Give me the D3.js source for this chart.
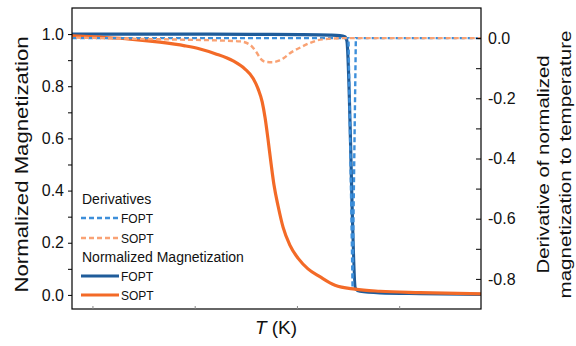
<!DOCTYPE html>
<html><head><meta charset="utf-8">
<script src="https://cdn.jsdelivr.net/npm/d3@7"></script>
<style>
body{margin:0;background:#fff;}
svg{font-family:"Liberation Sans",Arial,sans-serif;}
</style></head>
<body><svg id="c" width="576" height="346"></svg>
<script>
// Temperature in arbitrary units (0..100 across the axis)
const fopt_mag_T = [0, 19.1, 43.5, 55.7, 63.1, 65.5, 66.7, 67.2, 69.3, 70.4, 75.3, 85.1, 100];
const fopt_mag_V = [1.0, 1.0, 0.999, 0.998, 0.996, 0.994, 0.99, 0.975, 0.025, 0.014, 0.008, 0.005, 0.002];

const sopt_mag_T = [0, 6.85, 14.2, 21.5, 27.6, 31.3, 35.0, 39.4, 42.3, 44.3, 45.5, 46.5, 47.2, 47.9, 48.7, 49.4, 50.4, 51.6, 53.3, 55.3, 57.7, 60.6, 64.3, 69.2, 75.3, 85.1, 100];
const sopt_mag_V = [0.993, 0.988, 0.981, 0.969, 0.955, 0.943, 0.925, 0.897, 0.866, 0.83, 0.79, 0.74, 0.68, 0.60, 0.50, 0.42, 0.34, 0.26, 0.19, 0.14, 0.10, 0.07, 0.037, 0.022, 0.014, 0.009, 0.004];

const fopt_der_T = [0, 67.6, 68.6, 69.4, 100];
const fopt_der_V = [0, 0, -0.83, 0, 0];

const sopt_der_T = [0, 14.2, 26.4, 36.2, 41.1, 43.5, 45.0, 46.2, 47.4, 48.9, 50.4, 51.8, 53.3, 55.7, 58.2, 60.1, 63.1, 66.7, 100];
const sopt_der_V = [0.002, -0.002, -0.005, -0.008, -0.011, -0.022, -0.045, -0.07, -0.079, -0.08, -0.076, -0.066, -0.05, -0.032, -0.016, -0.007, -0.002, 0, 0];

const leftTicks = [0, 0.2, 0.4, 0.6, 0.8, 1.0];
const leftMinor = [0.1, 0.3, 0.5, 0.7, 0.9];
const rightTicks = [0, -0.2, -0.4, -0.6, -0.8];
const rightMinor = [-0.1, -0.3, -0.5, -0.7];
const xMinor = [5, 30, 55, 80];

const legendDer = ["FOPT", "SOPT"];
const legendMag = ["FOPT", "SOPT"];

const C = {foptMag:"#1f5c9a", soptMag:"#f36a27", foptDer:"#3d8fda", soptDer:"#f9a274"};

const svg = d3.select("#c");
const L = 72, R = 481, T = 8, B = 309;

const x = d3.scaleLinear().domain([0, 100]).range([L, R]);
const yL = d3.scaleLinear().domain([-0.054, 1.1]).range([B, T]);
const yR = d3.scaleLinear().domain([-0.9, 0.1]).range([B, T]);

const zip = (a, b) => a.map((t, i) => [t, b[i]]);

svg.append("clipPath").attr("id","clp").append("rect")
  .attr("x", L).attr("y", T).attr("width", R-L).attr("height", B-T);

const lineL = d3.line().x(d => x(d[0])).y(d => yL(d[1])).curve(d3.curveMonotoneX);
const lineR = d3.line().x(d => x(d[0])).y(d => yR(d[1])).curve(d3.curveMonotoneX);
const lineRlin = d3.line().x(d => x(d[0])).y(d => yR(d[1]));

const plot = svg.append("g").attr("clip-path","url(#clp)");
plot.append("path").attr("d", lineL(zip(fopt_mag_T, fopt_mag_V)))
  .attr("fill","none").attr("stroke",C.foptMag).attr("stroke-width",3.2);
plot.append("path").attr("d", lineL(zip(sopt_mag_T, sopt_mag_V)))
  .attr("fill","none").attr("stroke",C.soptMag).attr("stroke-width",3.2);
plot.append("path").attr("d", lineRlin(zip(fopt_der_T, fopt_der_V)))
  .attr("fill","none").attr("stroke",C.foptDer).attr("stroke-width",2.4).attr("stroke-dasharray","5,3");
plot.append("path").attr("d", lineR(zip(sopt_der_T, sopt_der_V)))
  .attr("fill","none").attr("stroke",C.soptDer).attr("stroke-width",2.4).attr("stroke-dasharray","5,3").attr("stroke-dashoffset",4);

// frame
svg.append("rect").attr("x", L).attr("y", T).attr("width", R-L).attr("height", B-T)
  .attr("fill","none").attr("stroke","#000").attr("stroke-width",1.2);

// left axis
const ax = svg.append("g").attr("transform", `translate(${L},0)`)
  .call(d3.axisLeft(yL).tickValues(leftTicks).tickSize(4).tickPadding(4).tickFormat(d => d.toFixed(1)));
ax.select(".domain").remove();
ax.selectAll("text").attr("font-size", 16).attr("fill","#111");
const axm = svg.append("g").attr("transform", `translate(${L},0)`)
  .call(d3.axisLeft(yL).tickValues(leftMinor).tickSize(4).tickFormat(""));
axm.select(".domain").remove();

// right axis (inward ticks)
const ar = svg.append("g").attr("transform", `translate(${R},0)`)
  .call(d3.axisRight(yR).tickValues(rightTicks).tickSizeInner(-5).tickSizeOuter(0).tickPadding(7).tickFormat(d => (Math.abs(d) < 1e-9 ? 0 : d).toFixed(1)));
ar.select(".domain").remove();
ar.selectAll("text").attr("font-size", 16).attr("fill","#111");
const arm = svg.append("g").attr("transform", `translate(${R},0)`)
  .call(d3.axisRight(yR).tickValues(rightMinor).tickSizeInner(-5).tickSizeOuter(0).tickFormat(""));
arm.select(".domain").remove();

// bottom minor ticks
const ab = svg.append("g").attr("transform", `translate(0,${B})`)
  .call(d3.axisBottom(x).tickValues(xMinor).tickSizeInner(-3).tickSizeOuter(0).tickFormat(""));
ab.select(".domain").remove();
ab.selectAll("line").attr("stroke","#888");

// titles
svg.append("text").attr("transform", `translate(28,${(T+B)/2 + 6}) rotate(-90)`)
  .attr("text-anchor","middle").attr("font-size", 18).attr("fill","#111")
  .attr("textLength", 256).attr("lengthAdjust","spacingAndGlyphs").text("Normalized Magnetization");
const rt = svg.append("g").attr("transform", `translate(549,${(T+B)/2 + 6}) rotate(-90)`);
rt.append("text").attr("x",0).attr("y",0).attr("text-anchor","middle").attr("font-size",17).attr("fill","#111")
  .attr("textLength", 218).attr("lengthAdjust","spacingAndGlyphs").text("Derivative of normalized");
rt.append("text").attr("x",0).attr("y",22).attr("text-anchor","middle").attr("font-size",17).attr("fill","#111")
  .attr("textLength", 268).attr("lengthAdjust","spacingAndGlyphs").text("magnetization to temperature");
const xt = svg.append("text").attr("x", 276).attr("y", 334).attr("text-anchor","middle")
  .attr("font-size", 19).attr("fill","#111");
xt.append("tspan").attr("font-style","italic").text("T");
xt.append("tspan").text(" (K)");

// legend
const lg = svg.append("g");
lg.append("text").attr("x", 82).attr("y", 204).attr("font-size", 14).attr("fill","#111").text("Derivatives");
const derCols = [C.foptDer, C.soptDer];
legendDer.forEach((s, i) => {
  const yy = 218 + i*20;
  lg.append("line").attr("x1",81).attr("x2",118).attr("y1",yy).attr("y2",yy)
    .attr("stroke",derCols[i]).attr("stroke-width",2.4).attr("stroke-dasharray","5,3");
  lg.append("text").attr("x",121).attr("y",yy+4.5).attr("font-size",12).attr("fill","#111").text(s);
});
lg.append("text").attr("x", 82).attr("y", 262).attr("font-size", 14).attr("fill","#111").text("Normalized Magnetization");
const magCols = [C.foptMag, C.soptMag];
legendMag.forEach((s, i) => {
  const yy = 276 + i*19;
  lg.append("line").attr("x1",81).attr("x2",119).attr("y1",yy).attr("y2",yy)
    .attr("stroke",magCols[i]).attr("stroke-width",3.2);
  lg.append("text").attr("x",121).attr("y",yy+4.5).attr("font-size",12).attr("fill","#111").text(s);
});
</script></body></html>
